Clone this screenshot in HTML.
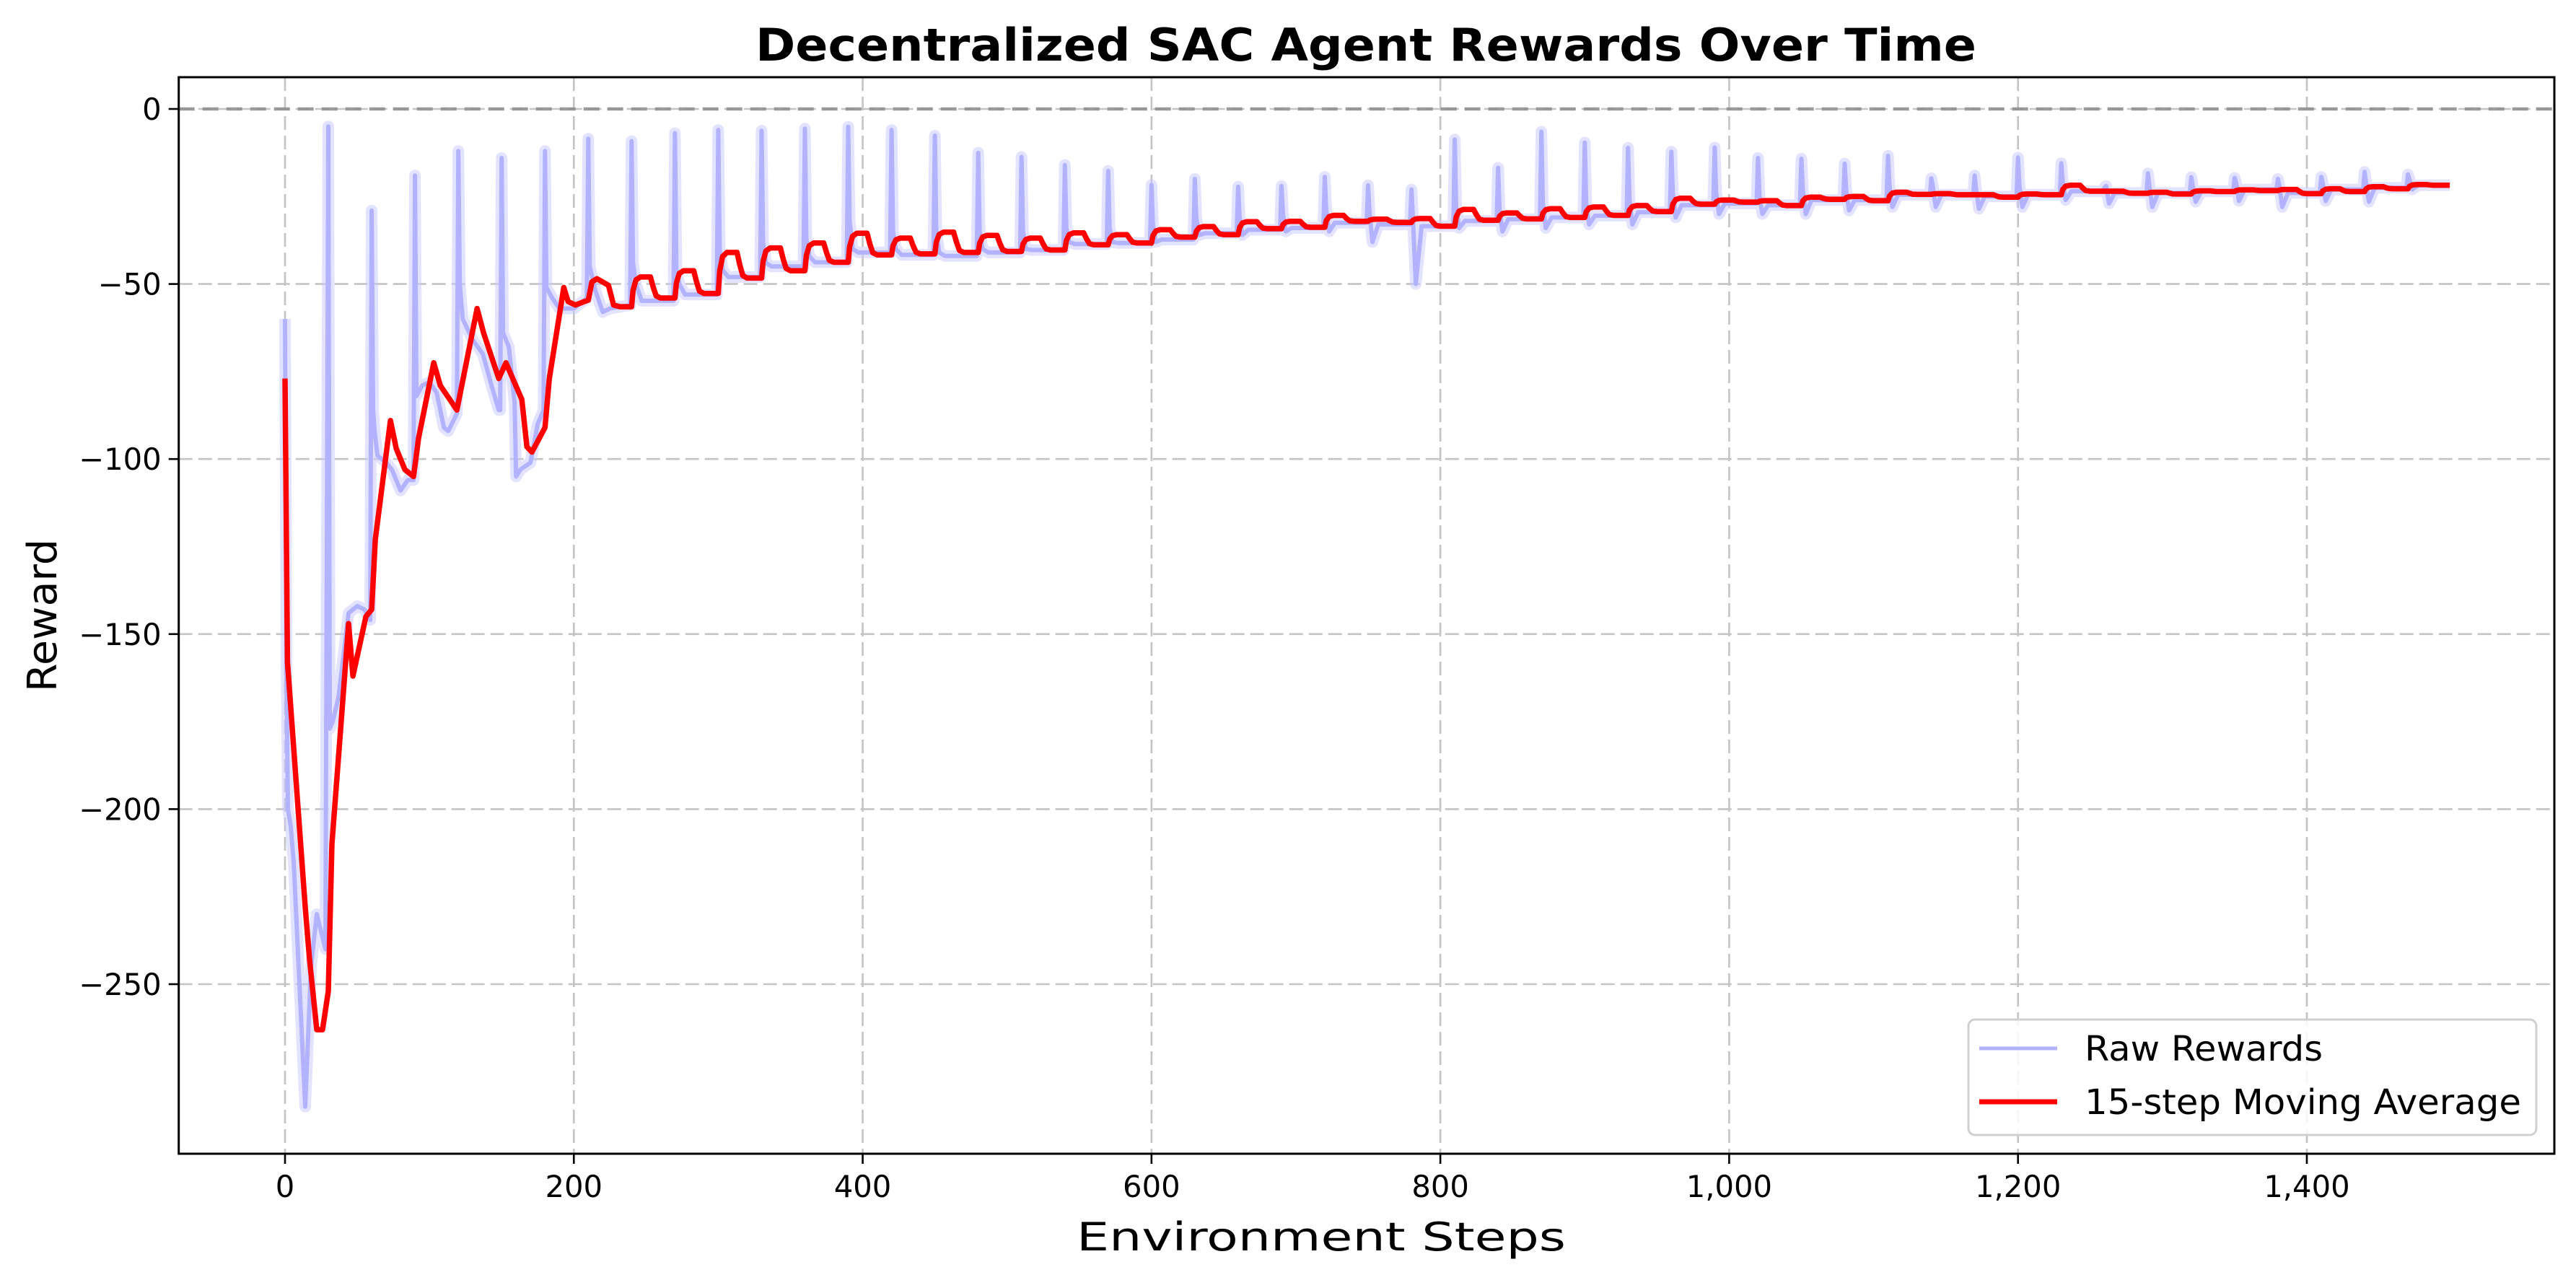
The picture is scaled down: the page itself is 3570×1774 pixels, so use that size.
<!DOCTYPE html>
<html><head><meta charset="utf-8"><style>
html,body{margin:0;padding:0;background:#fff}
svg{display:block}
text{font-family:"DejaVu Sans","Liberation Sans",sans-serif}
</style></head><body>
<svg id="chart" width="3570" height="1774" viewBox="0 0 3570 1774" xmlns="http://www.w3.org/2000/svg">
<rect width="3570" height="1774" fill="#fff"/>
<g id="grid"></g>
<g id="series"></g>
<g id="axes"></g>
<text x="1893" y="84" font-size="62" font-weight="bold" text-anchor="middle" textLength="1692" lengthAdjust="spacingAndGlyphs">Decentralized SAC Agent Rewards Over Time</text>
<text x="1831" y="1733" font-size="54" text-anchor="middle" textLength="678" lengthAdjust="spacingAndGlyphs">Environment Steps</text>
<text transform="translate(78,853) rotate(-90)" font-size="56" text-anchor="middle" textLength="212" lengthAdjust="spacingAndGlyphs">Reward</text>
<g>
<rect x="2728" y="1413" width="787" height="160" rx="9" fill="#fff" fill-opacity="0.85" stroke="#d0d0d0" stroke-width="3"/>
<line x1="2743" y1="1453" x2="2851" y2="1453" stroke="#b2b2ff" stroke-width="5"/>
<text x="2889" y="1470" font-size="48" textLength="330" lengthAdjust="spacingAndGlyphs">Raw Rewards</text>
<line x1="2743" y1="1527" x2="2851" y2="1527" stroke="#ff0000" stroke-width="7"/>
<text x="2889" y="1544" font-size="48" textLength="605" lengthAdjust="spacingAndGlyphs">15-step Moving Average</text>
</g>
</svg>
<script>
// ---- data ----
const xTicks=[0,200,400,600,800,1000,1200,1400];
const xTickLabels=["0","200","400","600","800","1,000","1,200","1,400"];
const yTicks=[0,-50,-100,-150,-200,-250];
const yTickLabels=["0","\u221250","\u2212100","\u2212150","\u2212200","\u2212250"];
// early raw rewards (steps 0-239)
const rawEarlySteps=[0,1,2,4,6,10,14,18,22,28,30,31,33,37,44,50,55,59,60,61,62,64,70,74,80,85,89,90,91,95,100,105,110,113,119,120,121,123,130,137,143,148,149,150,151,155,159,160,163,170,175,179,180,181,185,190,200,209,210,211,215,220,225,239];
const rawEarlyValues=[-60,-160,-200,-205,-215,-250,-285,-245,-230,-240,-5,-177,-175,-168,-144,-142,-143,-146,-29,-86,-92,-99,-101,-103,-109,-106,-106,-19,-82,-79,-78,-81,-91,-92,-87,-12,-50,-60,-66,-70,-79,-86,-86,-14,-64,-68,-84,-105,-103,-101,-90,-86,-12,-51,-54,-57,-57,-54,-8.5,-45,-52,-58,-57,-56];
// early moving average (steps 0-232)
const maEarlySteps=[0,1.7,14,17,22,26,30,32.5,44,47,56,60,62.5,73,77,83,89,92.5,103,107.5,119,133,137.5,148,153,164,167.5,171,180,183,193,196,201,210,212.5,216,224,227.5,232];
const maEarlyValues=[-77,-158,-228,-243,-263,-263,-252,-210,-147,-162,-145,-143,-123,-89,-97,-103,-105,-94,-72.5,-79,-86,-57,-64,-77,-72.5,-83,-96.5,-98,-91,-77,-51,-55,-56,-54.6,-49.4,-48.5,-50.4,-56,-56.5];
// per-episode data (episodes starting every 30 steps from 240)
const episodeSteps=[240,270,300,330,360,390,420,450,480,510,540,570,600,630,660,690,720,750,780,810,840,870,900,930,960,990,1020,1050,1080,1110,1140,1170,1200,1230,1260,1290,1320,1350,1380,1410,1440,1470];
const spikeValues=[-9.2,-6.9,-6,-6.2,-5.6,-5.1,-6,-7.6,-12.5,-13.7,-16,-17.7,-21.7,-20,-22.2,-22,-19.4,-21.8,-23,-8.7,-16.8,-6.5,-9.6,-11.1,-12.2,-11,-14,-14.2,-15.6,-13.4,-19.8,-19,-13.9,-15.5,-22.4,-18.4,-19.5,-19.7,-20,-19.4,-18,-18.7];
const postValues=[-44,-46,-40,-38,-37,-32,-35,-35,-35,-35,-34,-34,-33,-31,-31,-30,-29,-30,-31,-28,-29,-27,-27,-26,-24,-24,-25,-23,-23,-22,-22,-23,-22,-21,-22,-22,-22,-21,-22,-21,-21,-20];
const dipValues=[-50,-50,-46,-44,-42,-40,-40,-41,-40,-40,-38,-38,-38,-36,-36,-35,-35,-38,-50,-34,-35,-34,-33,-33,-31,-30,-30,-30,-29,-28,-28,-28.5,-28,-26,-27,-28,-26.5,-26.3,-28,-26.3,-26.5,-23];
const baseValues=[-54.8,-53,-48,-45,-43.8,-41,-41.7,-42,-41,-40.3,-38.6,-38.3,-37.3,-35.5,-34.5,-34,-32.5,-33,-33.5,-32,-31.5,-31,-30.5,-29.5,-27.5,-27,-27.5,-26,-26,-24.5,-24.5,-25,-24.5,-23.5,-24,-24,-23.5,-23,-24,-23,-22.5,-21.8];
const maHigh=[-48,-46.2,-41,-39.7,-38.3,-35.5,-36.9,-35.2,-36.1,-36.9,-35.4,-35.9,-34.5,-33.6,-32.2,-32.1,-30.4,-31.5,-31.3,-28.7,-29.7,-28.5,-28,-27.6,-25.5,-26,-26.2,-25.2,-25,-23.8,-24.2,-24.5,-24.3,-21.8,-23.5,-23.8,-23.4,-23.1,-23,-22.8,-22.2,-21.6];
const maLow=[-54,-52.7,-48.3,-46.2,-43.8,-41.7,-41.4,-41,-40.7,-40.3,-38.8,-38.3,-36.6,-35.9,-34.2,-33.8,-32.1,-32.4,-33.5,-31.8,-31.4,-31,-30.4,-29.3,-27.2,-26.6,-27.6,-25.8,-26.2,-24.4,-24.5,-25.2,-24.5,-23.5,-24.1,-24.3,-23.6,-23.3,-24.2,-23.6,-22.8,-21.8];
const lastStep=1499;

// ---- scales ----
const X0=395,PXS=2.0014,Y0=151,PYU=4.852;
const L=247.7,R=3540,T=107,B=1599;
const sx=v=>X0+v*PXS, sy=v=>Y0-v*PYU;
const NS="http://www.w3.org/2000/svg";
function mk(tag,attrs,parent){const e=document.createElementNS(NS,tag);for(const k in attrs)e.setAttribute(k,attrs[k]);parent.appendChild(e);return e;}
const grid=document.getElementById('grid'),axes=document.getElementById('axes'),series=document.getElementById('series');

xTicks.forEach((t,i)=>{
  const g=mk('line',{x1:sx(t),x2:sx(t),y1:T,y2:B,stroke:'#c4c4c4','stroke-width':2.6,'stroke-dasharray':'19,8'},grid);
  
  
  const tk=mk('line',{x1:sx(t),x2:sx(t),y1:B,y2:B+14,stroke:'#000','stroke-width':2.6},axes);
  
  
  const lb=mk('text',{x:sx(t),y:B+60,'font-size':41.7,'text-anchor':'middle'},axes);
  lb.textContent=xTickLabels[i];
  
  
});
yTicks.forEach((t,i)=>{
  const g=mk('line',{x1:L,x2:R,y1:sy(t),y2:sy(t),stroke:'#c4c4c4','stroke-width':2.6,'stroke-dasharray':'19,8'},grid);
  
  
  const tk=mk('line',{x1:L-14,x2:L,y1:sy(t),y2:sy(t),stroke:'#000','stroke-width':2.6},axes);
  
  
  const lb=mk('text',{x:L-24,y:sy(t)+15,'font-size':41.7,'text-anchor':'end'},axes);
  lb.textContent=yTickLabels[i];
  
  
});
const zl=mk('line',{x1:L,x2:R,y1:sy(0),y2:sy(0),stroke:'#909090','stroke-opacity':0.9,'stroke-width':4.5,'stroke-dasharray':'22,11'},grid);



// raw points
const rawPts=[];
rawEarlySteps.forEach((s,i)=>rawPts.push([s,rawEarlyValues[i]]));
episodeSteps.forEach((s,i)=>{
  rawPts.push([s,spikeValues[i]]);
  rawPts.push([s+1,postValues[i]]);
  rawPts.push([s+3,dipValues[i]]);
  rawPts.push([s+7,baseValues[i]]);
  rawPts.push([Math.min(s+29,lastStep),baseValues[i]]);
});
const maPts=[];
maEarlySteps.forEach((s,i)=>maPts.push([s,maEarlyValues[i]]));
episodeSteps.forEach((s,i)=>{
  const prev=i>0?maLow[i-1]:maEarlyValues[maEarlyValues.length-1];
  const hi=maHigh[i], lo=maLow[i];
  maPts.push([s,prev]);
  maPts.push([s+1,prev+(hi-prev)*0.55]);
  maPts.push([s+3,prev+(hi-prev)*0.9]);
  maPts.push([s+6,hi]);
  if(s+13<=lastStep){maPts.push([s+13,hi]);}
  if(s+17<=lastStep){
    maPts.push([s+15,hi+(lo-hi)*0.5]);
    maPts.push([s+17,lo+(hi-lo)*0.1]);
    maPts.push([s+20,lo]);
    maPts.push([Math.min(s+29,lastStep),lo]);
  } else maPts.push([lastStep,hi]);
});
const toD=p=>p.map((q,i)=>(i?'L':'M')+sx(q[0]).toFixed(1)+','+sy(q[1]).toFixed(1)).join('');
const band=mk('path',{d:toD(rawPts),fill:'none',stroke:'#c8c8ff','stroke-opacity':0.5,'stroke-width':16,'stroke-linejoin':'round'},series);


const raw=mk('path',{d:toD(rawPts),fill:'none',stroke:'#b2b2ff','stroke-width':6,'stroke-linejoin':'round'},series);


const ma=mk('path',{d:toD(maPts),fill:'none',stroke:'#ff0000','stroke-width':7.5,'stroke-linejoin':'round'},series);



const frame=mk('rect',{x:L,y:T,width:R-L,height:B-T,fill:'none',stroke:'#000','stroke-width':3},axes);


</script>
</body></html>
